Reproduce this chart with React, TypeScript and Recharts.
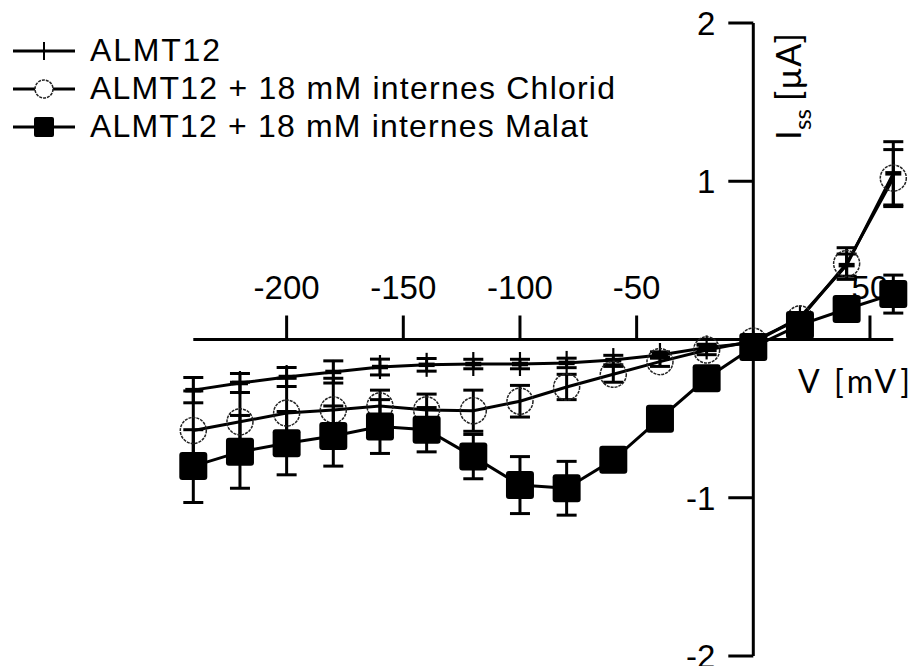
import React from 'react';
import { LineChart, Line, XAxis, YAxis, ErrorBar, ReferenceLine, ReferenceDot } from 'recharts';

// ---- data ----
const voltages = [-240, -220, -200, -180, -160, -140, -120, -100, -80, -60, -40, -20, 0, 20, 40, 60];
const almt12 = [-0.32, -0.275, -0.237, -0.205, -0.174, -0.16, -0.155, -0.155, -0.148, -0.13, -0.098, -0.05, -0.02, 0.14, 0.47, 1.05];
const almt12Err = [0.08, 0.06, 0.06, 0.07, 0.05, 0.04, 0.03, 0.03, 0.03, 0.03, 0.02, 0.02, 0.02, 0.03, 0.07, 0.2];
const chlorid = [-0.575, -0.52, -0.465, -0.445, -0.42, -0.445, -0.45, -0.39, -0.3, -0.22, -0.14, -0.066, -0.01, 0.13, 0.48, 1.02];
const chloridErr = [0.25, 0.25, 0.22, 0.2, 0.1, 0.1, 0.13, 0.1, 0.08, 0.05, 0.03, 0.03, 0.02, 0.03, 0.1, 0.18];
const malat = [-0.8, -0.71, -0.655, -0.61, -0.55, -0.57, -0.74, -0.92, -0.94, -0.76, -0.5, -0.245, -0.047, 0.092, 0.193, 0.287];
const malatErr = [0.23, 0.23, 0.2, 0.19, 0.17, 0.14, 0.14, 0.18, 0.17, 0.05, 0.03, 0.03, 0.02, 0.03, 0.05, 0.12];
const xTicks = [-200, -150, -100, -50, 50];
const yTicks = [2, 1, -1, -2];
const seriesNames = ['ALMT12', 'ALMT12 + 18 mM internes Chlorid', 'ALMT12 + 18 mM internes Malat'];

const data = voltages.map((v, i) => ({
  v,
  a: almt12[i], aErr: almt12Err[i],
  c: chlorid[i], cErr: chloridErr[i],
  m: malat[i], mErr: malatErr[i],
}));

const ARIAL = '"Liberation Sans", Arial, sans-serif';
const LATO = 'Lato, "Open Sans", sans-serif';

const PlusDot = (p: any) => {
  const { cx, cy, index } = p;
  if (cx == null || cy == null) return <g key={`pd-${index}`} />;
  return (
    <g key={`pd-${index}`}>
      <line x1={cx - 8} x2={cx + 8} y1={cy} y2={cy} stroke="#000" strokeWidth={4.5} />
      <line x1={cx} x2={cx} y1={cy - 12} y2={cy + 12} stroke="#000" strokeWidth={2.2} />
    </g>
  );
};

const CircleDot = (p: any) => {
  const { cx, cy, index } = p;
  if (cx == null || cy == null) return <g key={`cd-${index}`} />;
  return (
    <circle key={`cd-${index}`} cx={cx} cy={cy} r={13} fill="none" stroke="#222" strokeWidth={1.5} strokeDasharray="3 1" />
  );
};

const SquareDot = (p: any) => {
  const { cx, cy, index } = p;
  if (cx == null || cy == null) return <g key={`sd-${index}`} />;
  return <rect key={`sd-${index}`} x={cx - 14} y={cy - 14} width={28} height={28} rx={3} fill="#000" />;
};

const legendRows = [
  { y: 51, kind: 'plus', len: 130 },
  { y: 89, kind: 'circle', len: 525 },
  { y: 127, kind: 'square', len: 498 },
];

export default function App() {
  return (
    <div style={{ position: 'absolute', left: 0, top: 0, width: 912, height: 666, background: '#fff' }}>
      <LineChart
        width={912}
        height={666}
        data={data}
        margin={{ top: 23, right: 18.7, bottom: 10, left: 193.3 }}
      >
        <XAxis type="number" dataKey="v" domain={[-240, 60]} hide />
        <YAxis type="number" domain={[-2, 2]} hide />
        <ReferenceLine y={0} stroke="#000" strokeWidth={3} />
        <ReferenceLine x={0} stroke="#000" strokeWidth={3} />
        {xTicks.map((t) => (
          <ReferenceDot
            key={`xt${t}`}
            x={t}
            y={0}
            r={0}
            ifOverflow="visible"
            shape={(p: any) => (
              <g>
                <line x1={p.cx} x2={p.cx} y1={p.cy} y2={p.cy - 24} stroke="#000" strokeWidth={3} />
                <text x={p.cx} y={p.cy - 40.5} textAnchor="middle" fontSize={33} fontFamily={ARIAL} fill="#000">
                  {String(t)}
                </text>
              </g>
            )}
          />
        ))}
        {yTicks.map((t) => (
          <ReferenceDot
            key={`yt${t}`}
            x={0}
            y={t}
            r={0}
            ifOverflow="visible"
            shape={(p: any) => (
              <g>
                <line x1={p.cx - 25} x2={p.cx} y1={p.cy} y2={p.cy} stroke="#000" strokeWidth={3} />
                <text x={p.cx - 38} y={p.cy + 12} textAnchor="end" fontSize={33} fontFamily={ARIAL} fill="#000">
                  {String(t)}
                </text>
              </g>
            )}
          />
        ))}
        <Line
          dataKey="a"
          type="linear"
          stroke="#000"
          strokeWidth={3}
          dot={PlusDot}
          activeDot={false}
          isAnimationActive={false}
        >
          <ErrorBar dataKey="aErr" width={10} stroke="#000" strokeWidth={3} direction="y" />
        </Line>
        <Line
          dataKey="c"
          type="linear"
          stroke="#000"
          strokeWidth={3}
          dot={CircleDot}
          activeDot={false}
          isAnimationActive={false}
        >
          <ErrorBar dataKey="cErr" width={10} stroke="#000" strokeWidth={3} direction="y" />
        </Line>
        <Line
          dataKey="m"
          type="linear"
          stroke="#000"
          strokeWidth={3}
          dot={SquareDot}
          activeDot={false}
          isAnimationActive={false}
        >
          <ErrorBar dataKey="mErr" width={10} stroke="#000" strokeWidth={3} direction="y" />
        </Line>
      </LineChart>
      <svg width={912} height={666} style={{ position: 'absolute', left: 0, top: 0, pointerEvents: 'none' }}>
        {legendRows.map((r, i) => (
          <g key={i}>
            <line x1={13} x2={75} y1={r.y} y2={r.y} stroke="#000" strokeWidth={3} />
            {r.kind === 'plus' && <line x1={44} x2={44} y1={r.y - 9} y2={r.y + 9} stroke="#000" strokeWidth={2} />}
            {r.kind === 'circle' && (
              <circle cx={44} cy={r.y} r={9} fill="#fff" stroke="#222" strokeWidth={1.5} strokeDasharray="3 1" />
            )}
            {r.kind === 'square' && <rect x={34} y={r.y - 10} width={20} height={20} rx={2} fill="#000" />}
            <text
              x={90}
              y={r.y + 10}
              fontSize={32}
              fontFamily={ARIAL}
              textLength={r.len}
              lengthAdjust="spacing"
              fill="#000"
            >
              {seriesNames[i]}
            </text>
          </g>
        ))}
        <text x={798} y={393} fontSize={32} fontFamily={LATO} textLength={112} lengthAdjust="spacing" fill="#000">
          V [mV]
        </text>
        <text x={801} y={140} transform="rotate(-90 801 140)" fontSize={35} fontFamily={LATO} fill="#000">
          I
        </text>
        <text x={811} y={130} transform="rotate(-90 811 130)" fontSize={24} fontFamily={LATO} fill="#000">
          ss
        </text>
        <text x={801} y={101} transform="rotate(-90 801 101)" fontSize={34} fontFamily={LATO} textLength={68} lengthAdjust="spacing" fill="#000">
          [µA]
        </text>
      </svg>
    </div>
  );
}
